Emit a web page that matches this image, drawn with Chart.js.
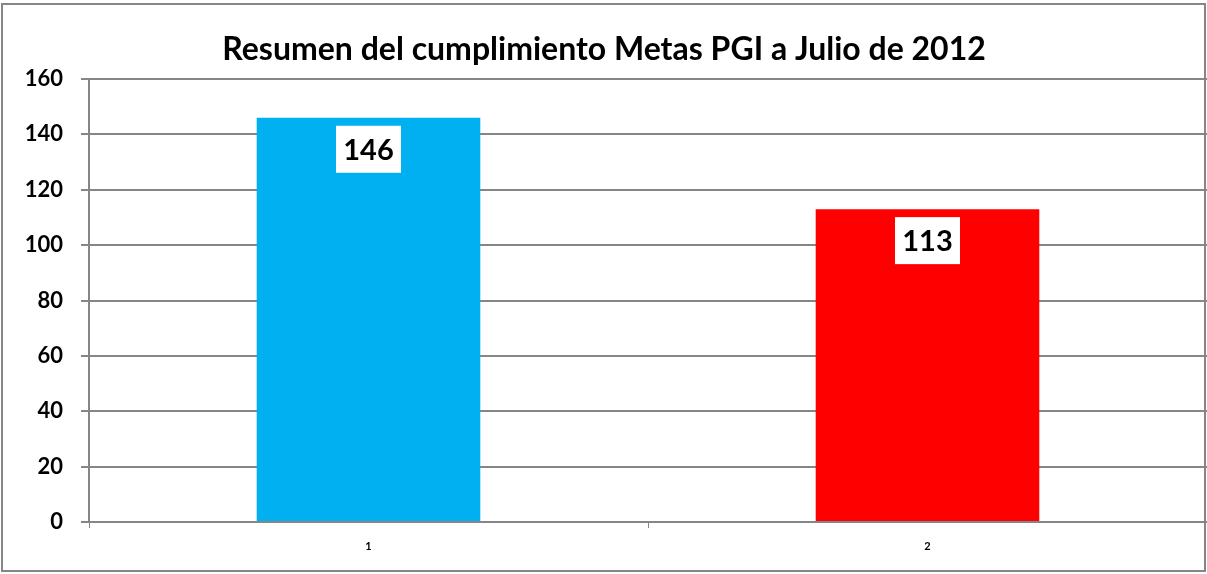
<!DOCTYPE html>
<html>
<head>
<meta charset="utf-8">
<script src="https://cdn.jsdelivr.net/npm/chart.js@4/dist/chart.umd.min.js"></script>
<style>
  html, body { margin: 0; padding: 0; background: #fff; }
  #wrap { width: 1207px; height: 574px; position: relative; }
</style>
</head>
<body>
<div id="wrap"><canvas id="chart" width="1207" height="574"></canvas></div>
<script>
const categories = ["1", "2"];
const values = [146, 113];
const barColors = ["#00B0F0", "#FF0000"];
const yTicks = [0, 20, 40, 60, 80, 100, 120, 140, 160];
const titleText = "Resumen del cumplimiento Metas PGI a Julio de 2012";

const FONT = "Lato, 'Open Sans', sans-serif";
const GRID = "#868686";

// marco exterior y título
const framePlugin = {
  id: "frame",
  beforeDraw(chart) {
    const ctx = chart.ctx;
    ctx.save();
    ctx.fillStyle = "#fff";
    ctx.fillRect(0, 0, chart.width, chart.height);
    ctx.strokeStyle = GRID;
    ctx.lineWidth = 2;
    ctx.strokeRect(2, 4, 1203, 567);
    ctx.restore();
  },
  afterDraw(chart) {
    const ctx = chart.ctx;
    ctx.save();
    ctx.fillStyle = "#000";
    ctx.font = "bold 32px " + FONT;
    ctx.textAlign = "center";
    ctx.textBaseline = "middle";
    ctx.fillText(titleText, 604, 50);
    ctx.restore();
  }
};

// etiquetas de valor en caja blanca
const labelPlugin = {
  id: "valueLabels",
  afterDatasetsDraw(chart) {
    const ctx = chart.ctx;
    const meta = chart.getDatasetMeta(0);
    ctx.save();
    ctx.font = "bold 29px " + FONT;
    ctx.textAlign = "center";
    ctx.textBaseline = "middle";
    meta.data.forEach((bar, i) => {
      const w = 65, h = 47;
      const top = bar.y + 8;
      ctx.fillStyle = "#fff";
      ctx.fillRect(bar.x - w / 2, top, w, h);
      ctx.fillStyle = "#000";
      ctx.fillText(String(values[i]), bar.x, top + h / 2 + 1);
    });
    ctx.restore();
  }
};

new Chart(document.getElementById("chart"), {
  type: "bar",
  data: {
    labels: categories,
    datasets: [{
      data: values,
      backgroundColor: barColors,
      borderWidth: 0,
      categoryPercentage: 0.4,
      barPercentage: 1.0
    }]
  },
  options: {
    responsive: false,
    animation: false,
    layout: { padding: { top: 79, right: 0, left: 0, bottom: 0 } },
    plugins: {
      legend: { display: false },
      title: { display: false },
      tooltip: { enabled: false }
    },
    scales: {
      y: {
        min: 0,
        max: 160,
        afterBuildTicks(scale) {
          scale.ticks = yTicks.map(v => ({ value: v }));
        },
        afterFit(scale) { scale.width = 89; },
        ticks: {
          color: "#000",
          font: { family: FONT, size: 22, weight: "bold" },
          padding: 18
        },
        grid: { color: GRID, lineWidth: 2, tickLength: 8 },
        border: { color: GRID, width: 2 }
      },
      x: {
        afterFit(scale) { scale.height = 52; },
        ticks: {
          color: "#000",
          font: { family: FONT, size: 11, weight: "bold" },
          padding: 12
        },
        grid: { drawOnChartArea: false, drawTicks: true, tickLength: 6, color: GRID, lineWidth: 1, offset: true },
        border: { color: GRID, width: 2 }
      }
    }
  },
  plugins: [framePlugin, labelPlugin]
});
</script>
</body>
</html>
